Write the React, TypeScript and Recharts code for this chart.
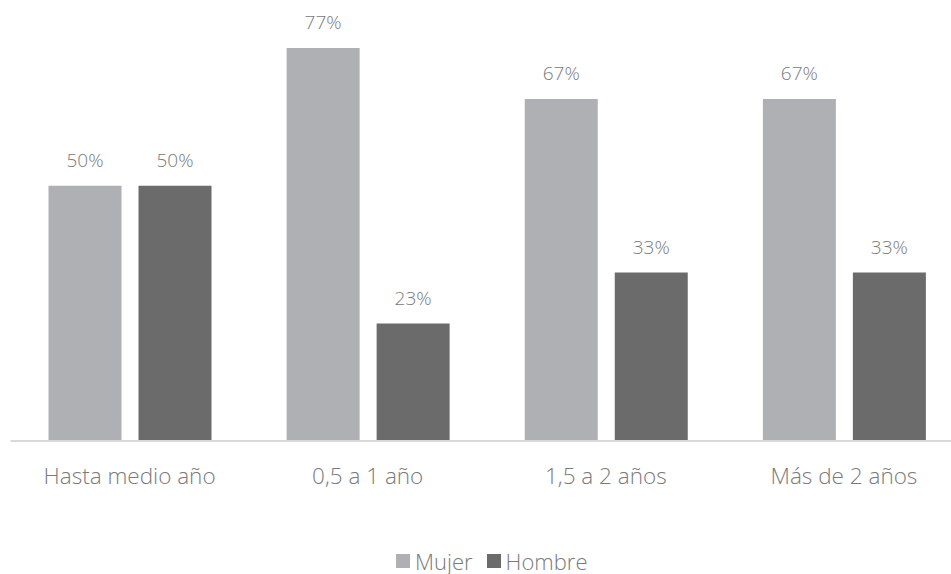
import React from 'react';
import { BarChart, Bar, XAxis, YAxis, Legend, LabelList } from 'recharts';

// Antigüedad vs. género (porcentaje)
const categories = ['Hasta medio año', '0,5 a 1 año', '1,5 a 2 años', 'Más de 2 años'];
const mujer = [50, 77, 67, 67];
const hombre = [50, 23, 33, 33];
const seriesNames = ['Mujer', 'Hombre'];
const seriesColors = ['#afb0b3', '#6b6b6b'];

const data = categories.map((name, i) => ({ name, Mujer: mujer[i], Hombre: hombre[i] }));

const FONT = '"Open Sans", sans-serif';
const TEXT = '#7a7a7a';

// legend in fixed order (Mujer first), recharts would otherwise reorder
const renderLegend = () => (
  <div
    style={{
      display: 'flex',
      justifyContent: 'center',
      alignItems: 'center',
      boxSizing: 'border-box',
      height: 30,
      paddingTop: 3,
      paddingLeft: 10,
    }}
  >
    {seriesNames.map((n, i) => (
      <div key={n} style={{ display: 'flex', alignItems: 'center', marginRight: i === 0 ? 14 : 0 }}>
        <span style={{ display: 'inline-block', width: 14, height: 14, background: seriesColors[i], marginRight: 5 }} />
        <span style={{ color: TEXT, fontSize: 22, fontFamily: FONT, fontWeight: 300, lineHeight: '26px' }}>{n}</span>
      </div>
    ))}
  </div>
);

export default function App() {
  return (
    <div style={{ position: 'absolute', left: 0, top: 0, width: 951, height: 574, overflow: 'hidden', background: '#fff' }}>
      <BarChart
        width={963}
        height={574}
        data={data}
        margin={{ top: 2, right: 0, bottom: 0, left: 10.5 }}
        barSize={73}
        barGap={17}
      >
        <XAxis
          dataKey="name"
          axisLine={{ stroke: '#d9d9d9', strokeWidth: 2 }}
          tickLine={false}
          tickMargin={21}
          height={103}
          tick={{ fill: TEXT, fontSize: 22.5, fontFamily: FONT, fontWeight: 300 }}
        />
        <YAxis hide domain={[0, 86]} />
        <Legend verticalAlign="bottom" height={30} content={renderLegend} />
        {seriesNames.map((n, i) => (
          <Bar key={n} dataKey={n} fill={seriesColors[i]} isAnimationActive={false}>
            <LabelList
              dataKey={n}
              position="top"
              offset={19}
              formatter={(v: number) => `${v}%`}
              style={{ fill: TEXT, fontSize: 19, fontFamily: FONT, fontWeight: 300 }}
            />
          </Bar>
        ))}
      </BarChart>
    </div>
  );
}
